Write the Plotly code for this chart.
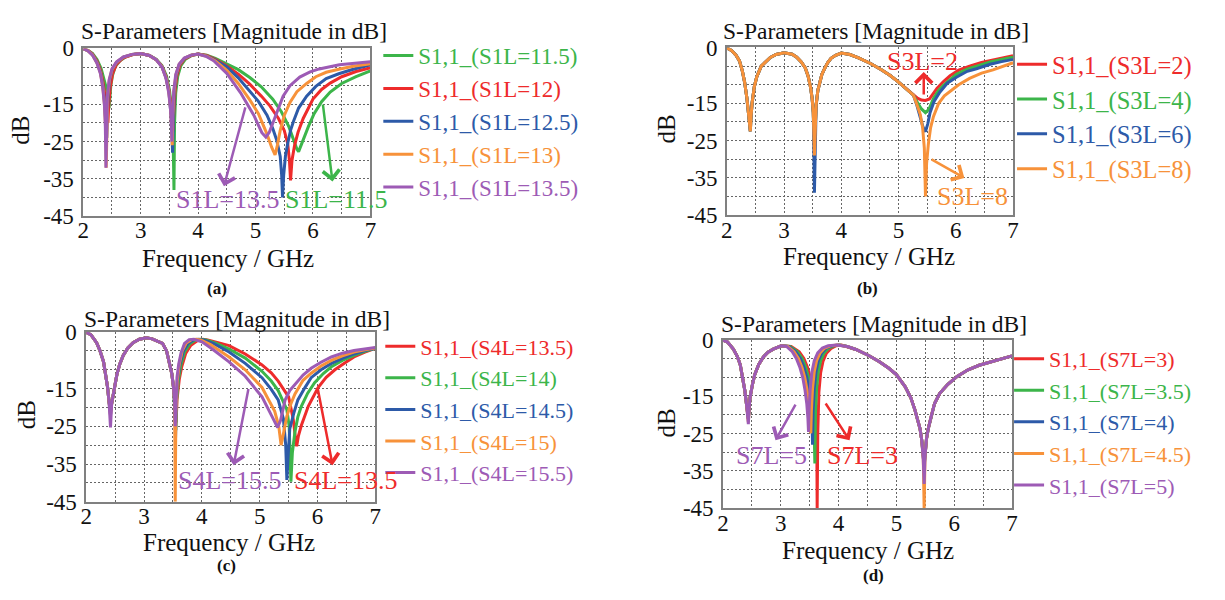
import plotly.graph_objects as go

W, H = 1225, 600
FONT = '"Liberation Serif", "Times New Roman", serif'
RED, GREEN, BLUE, ORANGE, PURPLE = "#ee2b2b", "#3cb54a", "#2d5aa8", "#f7923a", "#9d5bb5"

X_TICKS = [2, 3, 4, 5, 6, 7]
X_MINOR = [2.5, 3.5, 4.5, 5.5, 6.5]
Y_TICKS = [0, -15, -25, -35, -45]
Y_TICKTEXT = ["0", "-15", "-25", "-35", "-45"]
Y_MINOR = [-5, -10, -20, -30, -40]

# ---------------- Panel (a) : S1L ----------------
A_NAMES = ["S1,1_(S1L=11.5)", "S1,1_(S1L=12)", "S1,1_(S1L=12.5)", "S1,1_(S1L=13)", "S1,1_(S1L=13.5)"]
A115_F = [2.00, 2.08, 2.16, 2.24, 2.31, 2.36, 2.40, 2.43, 2.45, 2.465, 2.48, 2.51, 2.56, 2.64, 2.75, 2.88, 3.00, 3.15, 3.27, 3.37,
          3.45, 3.50, 3.54, 3.565, 3.58, 3.59, 3.61, 3.645, 3.70, 3.78, 3.89, 4.00, 4.15, 4.30, 4.50, 4.70, 4.90, 5.10, 5.30, 5.45,
          5.58, 5.66, 5.72, 5.75, 5.78, 5.84, 5.92, 6.02, 6.15, 6.30, 6.50, 6.75, 7.00]
A115_DB = [-0.1, -0.5, -1.3, -3.0, -5.3, -8.2, -10.5, -13.5, -16.0, -13.0, -10.0, -7.2, -4.8, -3.3, -2.2, -1.6, -1.4, -1.9, -2.9, -4.6,
           -7.4, -11.0, -16.0, -24.0, -38.0, -20.0, -12.0, -7.5, -4.6, -2.9, -1.9, -1.5, -1.8, -2.7, -4.1, -5.7, -7.8, -10.3, -13.6, -17.0,
           -21.0, -24.5, -27.0, -27.7, -26.5, -24.5, -21.0, -17.5, -14.3, -11.7, -9.4, -7.6, -6.0]
A12_F = [2.00, 2.08, 2.16, 2.24, 2.30, 2.35, 2.38, 2.40, 2.415, 2.43, 2.445, 2.47, 2.51, 2.58, 2.70, 2.85, 3.00, 3.15, 3.27, 3.37,
         3.44, 3.49, 3.525, 3.55, 3.565, 3.58, 3.60, 3.63, 3.68, 3.76, 3.88, 4.00, 4.15, 4.30, 4.50, 4.70, 4.90, 5.10, 5.25, 5.40,
         5.50, 5.56, 5.59, 5.61, 5.635, 5.68, 5.74, 5.83, 5.92, 6.00, 6.15, 6.30, 6.50, 6.75, 7.00]
A12_DB = [-0.1, -0.5, -1.5, -3.4, -5.8, -9.5, -13.0, -16.0, -18.5, -20.0, -15.0, -10.5, -6.8, -4.2, -2.5, -1.7, -1.4, -1.9, -3.0, -4.8,
          -7.5, -11.0, -15.0, -19.0, -22.0, -16.0, -11.0, -7.4, -4.6, -2.9, -1.9, -1.5, -1.9, -2.9, -4.7, -6.9, -9.6, -12.8, -15.4, -18.8,
          -22.0, -25.5, -30.0, -35.4, -30.0, -26.0, -22.5, -18.8, -15.8, -13.6, -11.0, -9.3, -7.6, -6.2, -5.2]
A125_F = [2.00, 2.08, 2.16, 2.24, 2.30, 2.34, 2.37, 2.39, 2.40, 2.41, 2.42, 2.435, 2.465, 2.51, 2.58, 2.70, 2.85, 3.00, 3.15, 3.27,
          3.37, 3.44, 3.49, 3.52, 3.54, 3.555, 3.565, 3.585, 3.62, 3.67, 3.76, 3.88, 4.00, 4.15, 4.30, 4.50, 4.70, 4.90, 5.05, 5.20,
          5.30, 5.37, 5.43, 5.455, 5.47, 5.49, 5.52, 5.56, 5.61, 5.66, 5.75, 5.89, 6.05, 6.23, 6.45, 6.70, 7.00]
A125_DB = [-0.1, -0.6, -1.6, -3.7, -6.3, -9.6, -14.0, -18.5, -21.0, -24.0, -18.0, -12.5, -8.2, -5.5, -3.8, -2.3, -1.6, -1.4, -1.9, -3.0,
           -4.9, -7.7, -11.2, -15.5, -20.0, -28.0, -19.0, -11.5, -7.2, -4.5, -2.7, -1.8, -1.5, -2.0, -3.1, -5.0, -7.9, -11.5, -14.2, -17.9,
           -21.5, -24.7, -29.0, -34.0, -40.0, -34.0, -29.0, -25.5, -22.0, -19.6, -16.0, -12.8, -10.2, -8.1, -6.8, -5.6, -4.4]
A13_F = [2.00, 2.08, 2.16, 2.24, 2.30, 2.34, 2.37, 2.39, 2.40, 2.41, 2.425, 2.455, 2.50, 2.58, 2.70, 2.85, 3.00, 3.15, 3.27, 3.37,
         3.44, 3.49, 3.52, 3.54, 3.55, 3.56, 3.58, 3.615, 3.67, 3.76, 3.88, 4.00, 4.15, 4.30, 4.50, 4.70, 4.90, 5.05, 5.20, 5.28,
         5.34, 5.38, 5.43, 5.50, 5.60, 5.72, 5.89, 6.05, 6.23, 6.45, 6.70, 7.00]
A13_DB = [-0.1, -0.6, -1.7, -3.9, -6.6, -10.2, -15.0, -21.0, -32.0, -20.0, -13.0, -8.5, -5.7, -3.7, -2.3, -1.6, -1.4, -1.9, -3.0, -4.9,
          -7.8, -11.5, -16.0, -21.0, -26.0, -18.0, -11.5, -7.0, -4.3, -2.6, -1.8, -1.5, -2.1, -3.4, -5.9, -9.4, -13.8, -17.5, -23.0, -26.5,
          -28.6, -26.0, -22.0, -18.0, -14.5, -11.6, -9.4, -7.6, -6.4, -5.6, -4.8, -4.1]
A135_F = [2.00, 2.08, 2.16, 2.24, 2.30, 2.34, 2.37, 2.385, 2.395, 2.405, 2.42, 2.45, 2.50, 2.58, 2.70, 2.85, 3.00, 3.15, 3.27, 3.37,
          3.44, 3.49, 3.52, 3.535, 3.545, 3.555, 3.575, 3.61, 3.67, 3.76, 3.88, 4.00, 4.15, 4.28, 4.50, 4.74, 4.97, 5.11, 5.18, 5.24,
          5.31, 5.40, 5.48, 5.60, 5.77, 5.95, 6.11, 6.46, 6.75, 7.00]
A135_DB = [-0.1, -0.6, -1.8, -4.0, -6.8, -10.5, -15.5, -21.0, -32.0, -20.0, -13.0, -8.5, -5.5, -3.6, -2.3, -1.6, -1.4, -1.9, -3.0, -5.0,
           -8.0, -12.0, -16.5, -21.0, -25.0, -18.0, -11.5, -7.0, -4.2, -2.6, -1.8, -1.5, -2.2, -3.4, -6.7, -11.9, -17.9, -22.6, -23.8, -22.5,
           -19.6, -15.8, -12.8, -10.0, -7.7, -6.3, -5.5, -4.4, -3.9, -3.6]

# ---------------- Panel (b) : S3L ----------------
B_NAMES = ["S1,1_(S3L=2)", "S1,1_(S3L=4)", "S1,1_(S3L=6)", "S1,1_(S3L=8)"]
B_LOW_F = [2.00, 2.08, 2.16, 2.22, 2.27, 2.31, 2.35, 2.38, 2.40, 2.41, 2.42, 2.44, 2.48, 2.52, 2.60, 2.67, 2.76, 2.86, 3.00, 3.14,
           3.22, 3.30, 3.37, 3.42, 3.46, 3.49, 3.51]
B_LOW_DB = [-0.1, -0.8, -2.1, -3.6, -6.3, -9.3, -13.6, -17.5, -20.5, -22.5, -19.0, -15.0, -10.5, -8.0, -5.0, -3.9, -2.7, -1.9, -1.4, -1.8,
            -2.6, -3.9, -5.5, -7.7, -10.5, -13.7, -17.5]
B_NOTCH_F = 3.53
B_NOTCH_DB = [-26.0, -27.0, -39.0, -29.0]
B_MID_F = [3.545, 3.56, 3.59, 3.62, 3.66, 3.71, 3.76, 3.82, 3.90, 4.00, 4.15, 4.30, 4.51, 4.70, 4.86, 5.00, 5.10, 5.20, 5.26]
B_MID_DB = [-20.0, -15.4, -11.5, -9.4, -7.2, -5.6, -4.1, -2.9, -2.1, -1.5, -1.9, -2.8, -4.3, -6.0, -7.6, -9.3, -10.6, -11.9, -12.8]
B2_F = [5.33, 5.40, 5.47, 5.54, 5.60, 5.67, 5.78, 5.90, 6.05, 6.24, 6.45, 6.65, 6.85, 7.00]
B2_DB = [-13.6, -14.1, -14.2, -13.8, -12.5, -11.0, -9.2, -7.6, -6.1, -5.0, -4.0, -3.3, -2.7, -2.2]
B4_F = [5.33, 5.40, 5.47, 5.53, 5.61, 5.70, 5.78, 5.90, 6.01, 6.20, 6.36, 6.60, 6.80, 7.00]
B4_DB = [-14.8, -16.5, -17.5, -16.6, -13.7, -11.5, -10.2, -8.5, -7.2, -5.8, -5.0, -3.9, -3.2, -2.6]
B6_F = [5.32, 5.38, 5.43, 5.47, 5.51, 5.55, 5.62, 5.72, 5.85, 6.01, 6.20, 6.36, 6.60, 6.80, 7.00]
B6_DB = [-15.5, -18.5, -21.5, -22.6, -20.5, -17.5, -14.5, -12.0, -9.6, -8.0, -6.4, -5.7, -4.5, -3.8, -3.2]
B8_F = [5.32, 5.38, 5.42, 5.45, 5.47, 5.49, 5.52, 5.56, 5.61, 5.70, 5.80, 5.90, 6.05, 6.24, 6.45, 6.65, 6.85, 7.00]
B8_DB = [-15.3, -18.0, -21.5, -27.0, -40.0, -31.0, -26.0, -21.5, -18.5, -15.0, -13.0, -11.8, -10.0, -8.3, -6.9, -6.0, -4.9, -4.1]

# ---------------- Panel (c) : S4L ----------------
C_NAMES = ["S1,1_(S4L=13.5)", "S1,1_(S4L=14)", "S1,1_(S4L=14.5)", "S1,1_(S4L=15)", "S1,1_(S4L=15.5)"]
C_LOW_A_F = [2.00, 2.08, 2.18, 2.24, 2.30, 2.34, 2.37, 2.395]
C_LOW_A_DB = [-0.1, -0.7, -2.8, -5.0, -7.9, -11.5, -14.7, -18.5]
C_DIP1_F = 2.42
C_DIP1_DB = [-21.0, -21.0, -22.0, -22.0, -25.3]
C_LOW_B_F = [2.44, 2.47, 2.50, 2.53, 2.58, 2.64, 2.72, 2.81, 2.92, 3.04, 3.14, 3.24, 3.32, 3.39, 3.44, 3.48, 3.51, 3.53]
C_LOW_B_DB = [-19.0, -16.0, -13.5, -11.3, -8.5, -6.2, -4.2, -2.8, -1.9, -1.5, -1.8, -2.4, -3.0, -5.0, -7.9, -11.0, -14.7, -19.0]
C135_F = [3.555, 3.57, 3.61, 3.65, 3.72, 3.81, 3.92, 4.02, 4.10, 4.28, 4.47, 4.75, 5.04, 5.20, 5.32, 5.50, 5.58, 5.61, 5.64, 5.67,
          5.72, 5.84, 6.01, 6.15, 6.30, 6.47, 6.63, 6.82, 7.00]
C135_DB = [-24.0, -18.0, -12.5, -9.3, -5.7, -3.5, -2.3, -1.9, -2.1, -2.8, -3.6, -5.8, -8.7, -10.8, -13.0, -17.2, -23.1, -27.0, -30.3, -27.5,
           -24.8, -19.7, -14.7, -12.0, -10.0, -8.2, -6.6, -5.3, -4.3]
C14_F = [3.55, 3.565, 3.595, 3.635, 3.70, 3.79, 3.89, 3.98, 4.07, 4.25, 4.47, 4.75, 5.04, 5.20, 5.32, 5.47, 5.51, 5.54, 5.565, 5.61,
         5.66, 5.72, 5.83, 5.95, 6.10, 6.24, 6.43, 6.63, 6.82, 7.00]
C14_DB = [-26.0, -18.0, -12.7, -8.8, -5.3, -3.1, -2.1, -1.9, -2.1, -3.0, -4.5, -6.9, -10.4, -13.0, -15.5, -20.6, -25.0, -39.7, -32.0, -26.4,
          -22.5, -19.7, -16.2, -13.4, -11.0, -9.2, -7.5, -6.2, -5.1, -4.3]
C145_F = [3.545, 3.56, 3.585, 3.62, 3.68, 3.76, 3.86, 3.94, 4.03, 4.20, 4.47, 4.75, 5.04, 5.20, 5.32, 5.41, 5.45, 5.47, 5.495, 5.52,
          5.59, 5.66, 5.78, 5.89, 6.06, 6.24, 6.43, 6.63, 6.82, 7.00]
C145_DB = [-28.0, -18.0, -12.5, -8.6, -5.1, -3.0, -2.0, -1.9, -2.1, -3.0, -5.3, -8.3, -12.1, -15.2, -18.0, -23.0, -30.0, -39.2, -32.0, -25.7,
           -21.5, -18.0, -14.8, -12.1, -10.0, -8.3, -7.0, -5.8, -4.9, -4.3]
C15_F = [3.54, 3.55, 3.575, 3.61, 3.66, 3.73, 3.82, 3.90, 3.98, 4.15, 4.47, 4.75, 5.04, 5.26, 5.33, 5.37, 5.41, 5.47, 5.54, 5.61,
         5.75, 5.89, 6.06, 6.24, 6.43, 6.63, 6.82, 7.00]
C15_DB = [-45.0, -22.0, -13.0, -8.5, -5.0, -2.9, -2.0, -1.9, -2.1, -3.3, -6.6, -10.0, -14.7, -21.0, -25.0, -30.0, -27.0, -22.3, -19.0, -16.4,
          -12.8, -10.9, -9.0, -7.5, -6.3, -5.3, -4.7, -4.2]
C155_F = [3.54, 3.55, 3.57, 3.60, 3.64, 3.70, 3.78, 3.86, 4.00, 4.18, 4.47, 4.75, 5.04, 5.21, 5.31, 5.36, 5.44, 5.52, 5.61, 5.75,
          5.89, 6.06, 6.24, 6.43, 6.63, 6.82, 7.00]
C155_DB = [-25.0, -18.0, -12.0, -8.5, -5.5, -3.0, -2.0, -1.9, -2.6, -4.5, -7.9, -11.7, -17.2, -22.3, -25.3, -23.5, -18.0, -15.5, -13.8, -11.4,
           -9.6, -8.0, -6.6, -5.6, -4.9, -4.4, -4.1]

# ---------------- Panel (d) : S7L ----------------
D_NAMES = ["S1,1_(S7L=3)", "S1,1_(S7L=3.5)", "S1,1_(S7L=4)", "S1,1_(S7L=4.5)", "S1,1_(S7L=5)"]
D_LOW_A_F = [2.00, 2.08, 2.18, 2.25, 2.30, 2.35, 2.38, 2.41]
D_LOW_A_DB = [-0.1, -0.6, -2.5, -4.5, -6.7, -10.5, -13.6, -17.5]
D_DIP1_F = 2.44
D_DIP1_DB = [-21.0, -21.0, -21.0, -22.0, -22.5]
D_LOW_B_F = [2.455, 2.47, 2.51, 2.55, 2.62, 2.70, 2.78, 2.87, 3.01]
D_LOW_B_DB = [-18.0, -15.3, -12.0, -9.3, -6.6, -4.6, -3.3, -2.5, -1.6]
D3_F = [3.18, 3.32, 3.40, 3.46, 3.51, 3.55, 3.585, 3.61, 3.625, 3.63, 3.64, 3.66, 3.69, 3.73, 3.79, 3.87, 3.96, 4.05]
D3_DB = [-1.8, -3.2, -5.0, -7.3, -10.0, -13.5, -17.0, -22.0, -30.0, -45.0, -25.0, -14.0, -8.8, -5.8, -3.6, -2.3, -1.6, -1.4]
D35_F = [3.16, 3.29, 3.37, 3.43, 3.48, 3.52, 3.555, 3.575, 3.59, 3.60, 3.62, 3.65, 3.69, 3.75, 3.83, 3.92, 4.02]
D35_DB = [-1.8, -3.2, -5.0, -7.3, -10.0, -13.5, -17.0, -22.0, -33.0, -20.0, -13.0, -8.5, -5.6, -3.5, -2.2, -1.6, -1.4]
D4_F = [3.14, 3.26, 3.34, 3.40, 3.45, 3.49, 3.52, 3.54, 3.55, 3.56, 3.58, 3.61, 3.65, 3.71, 3.79, 3.89, 4.00]
D4_DB = [-1.8, -3.2, -5.0, -7.3, -10.0, -13.5, -17.0, -21.0, -28.0, -19.0, -13.0, -8.5, -5.6, -3.5, -2.2, -1.6, -1.4]
D45_F = [3.12, 3.23, 3.305, 3.365, 3.415, 3.455, 3.485, 3.505, 3.52, 3.53, 3.55, 3.58, 3.62, 3.68, 3.76, 3.86, 3.99]
D45_DB = [-1.8, -3.2, -5.0, -7.3, -10.0, -13.5, -17.0, -21.0, -25.0, -19.0, -13.0, -8.5, -5.6, -3.5, -2.2, -1.6, -1.4]
D5_F = [3.10, 3.20, 3.27, 3.33, 3.38, 3.42, 3.45, 3.47, 3.48, 3.49, 3.51, 3.54, 3.58, 3.64, 3.72, 3.82, 3.97]
D5_DB = [-1.8, -3.2, -5.0, -7.3, -10.0, -13.5, -17.0, -21.0, -24.6, -19.0, -13.0, -8.5, -5.6, -3.5, -2.2, -1.6, -1.4]
D_HIGH_A_F = [4.15, 4.30, 4.52, 4.70, 4.87, 5.00, 5.15, 5.25, 5.32, 5.41, 5.44, 5.465]
D_HIGH_A_DB = [-1.8, -2.6, -4.2, -5.8, -7.6, -9.3, -12.5, -15.5, -18.7, -23.8, -27.0, -32.0]
D_DIP3_F = 5.48
D_DIP3_DB = [-33.0, -33.5, -34.0, -45.0, -38.5]
D_HIGH_B_F = [5.495, 5.52, 5.55, 5.60, 5.66, 5.75, 5.89, 6.05, 6.24, 6.43, 6.63, 6.82, 7.00]
D_HIGH_B_DB = [-31.0, -26.5, -23.8, -20.5, -17.0, -14.3, -11.9, -9.8, -8.0, -6.8, -5.9, -5.0, -4.3]

# ---------------- figure ----------------
fig = go.Figure()


def add(xs, ys, color, name, k):
    sfx = "" if k == 1 else str(k)
    fig.add_trace(go.Scatter(
        x=xs, y=ys, mode="lines", line=dict(color=color, width=3),
        name='<span style="color:%s">%s</span>' % (color, name),
        xaxis="x" + sfx, yaxis="y" + sfx, legend="legend" + sfx,
        hoverinfo="skip"))


A_COLS = [GREEN, RED, BLUE, ORANGE, PURPLE]
for xs, ys, c, n in zip([A115_F, A12_F, A125_F, A13_F, A135_F],
                        [A115_DB, A12_DB, A125_DB, A13_DB, A135_DB], A_COLS, A_NAMES):
    add(xs, ys, c, n, 1)

B_COLS = [RED, GREEN, BLUE, ORANGE]
for i, (hf, hd) in enumerate([(B2_F, B2_DB), (B4_F, B4_DB), (B6_F, B6_DB), (B8_F, B8_DB)]):
    xs = B_LOW_F + [B_NOTCH_F] + B_MID_F + hf
    ys = B_LOW_DB + [B_NOTCH_DB[i]] + B_MID_DB + hd
    add(xs, ys, B_COLS[i], B_NAMES[i], 2)

C_COLS = [RED, GREEN, BLUE, ORANGE, PURPLE]
for i, (hf, hd) in enumerate([(C135_F, C135_DB), (C14_F, C14_DB), (C145_F, C145_DB), (C15_F, C15_DB), (C155_F, C155_DB)]):
    xs = C_LOW_A_F + [C_DIP1_F] + C_LOW_B_F + hf
    ys = C_LOW_A_DB + [C_DIP1_DB[i]] + C_LOW_B_DB + hd
    add(xs, ys, C_COLS[i], C_NAMES[i], 3)

D_COLS = [RED, GREEN, BLUE, ORANGE, PURPLE]
for i, (mf, md) in enumerate([(D3_F, D3_DB), (D35_F, D35_DB), (D4_F, D4_DB), (D45_F, D45_DB), (D5_F, D5_DB)]):
    xs = D_LOW_A_F + [D_DIP1_F] + D_LOW_B_F + mf + D_HIGH_A_F + [D_DIP3_F] + D_HIGH_B_F
    ys = D_LOW_A_DB + [D_DIP1_DB[i]] + D_LOW_B_DB + md + D_HIGH_A_DB + [D_DIP3_DB[i]] + D_HIGH_B_DB
    add(xs, ys, D_COLS[i], D_NAMES[i], 4)

# panel boxes in pixels: (left, right, top, bottom)
BOXES = [(78, 368, 38, 213), (728, 1017, 37, 212), (81, 373, 334, 511), (724, 1016, 342, 518)]
GRID_C, GRID_D = "#666666", "2px,2px"
layout = dict(width=W, height=H, margin=dict(l=0, r=0, t=0, b=0),
              paper_bgcolor="white", plot_bgcolor="white",
              font=dict(family=FONT, color="#111111"), showlegend=True)
for k, (l, r, t, b) in enumerate(BOXES, start=1):
    sfx = "" if k == 1 else str(k)
    layout["xaxis" + sfx] = dict(
        domain=[l / W, r / W], anchor="y" + sfx, range=[2, 7],
        tickmode="array", tickvals=X_TICKS, ticks="", ticklen=0, showgrid=True,
        gridcolor=GRID_C, gridwidth=1, griddash=GRID_D,
        minor=dict(tickvals=X_MINOR, showgrid=True, gridcolor=GRID_C, griddash=GRID_D, gridwidth=1),
        showline=True, linecolor="#808080", linewidth=1.5, mirror=True, zeroline=False,
        ticklabelstandoff=-7,
        tickfont=dict(family=FONT, size=23, color="#111111"))
    layout["yaxis" + sfx] = dict(
        domain=[1 - b / H, 1 - t / H], anchor="x" + sfx, range=[-45, 0],
        tickmode="array", tickvals=Y_TICKS, ticktext=Y_TICKTEXT, ticks="", ticklen=0, showgrid=True,
        gridcolor=GRID_C, gridwidth=1, griddash=GRID_D,
        minor=dict(tickvals=Y_MINOR, showgrid=True, gridcolor=GRID_C, griddash=GRID_D, gridwidth=1),
        showline=True, linecolor="#808080", linewidth=1.5, mirror=True, zeroline=False,
        ticklabelstandoff=3,
        tickfont=dict(family=FONT, size=23, color="#111111"))

# legends: (left px, top px, font size)
LEG = [(376, 23, 23), (1016, 31, 24.5), (378, 327, 22), (1013, 340, 22)]
for k, (lx, ty, fs) in enumerate(LEG, start=1):
    sfx = "" if k == 1 else str(k)
    layout["legend" + sfx] = dict(x=lx / W, y=1 - ty / H, xanchor="left", yanchor="top",
                                  bgcolor="rgba(0,0,0,0)", borderwidth=0, itemwidth=30,
                                  tracegroupgap=0, traceorder="normal",
                                  font=dict(family=FONT, size=fs))
fig.update_layout(**layout)

anns = []


def ptext(txt, px, py, size, xanchor="center", bold=False, angle=0, color="#111111"):
    anns.append(dict(text=("<b>%s</b>" % txt) if bold else txt, x=px / W, y=1 - py / H,
                     xref="paper", yref="paper", showarrow=False, xanchor=xanchor, yanchor="middle",
                     textangle=angle, font=dict(family=FONT, size=size, color=color)))


TITLE = "S-Parameters [Magnitude in dB]"
for (px, py) in [(74, 20), (722, 20), (77, 320), (720, 326)]:
    ptext(TITLE, px, py, 23.5, xanchor="left")
for (px, py) in [(15, 123), (667, 122), (21, 420), (667, 429)]:
    ptext("dB", px, py, 25, angle=-90)
for (px, py) in [(224, 257), (872, 255), (225, 554), (871, 562)]:
    ptext("Frequency / GHz", px, py, 25)
for txt, (px, py) in zip(["(a)", "(b)", "(c)", "(d)"], [(213, 288), (870, 288), (223, 578), (876, 588)]):
    ptext(txt, px, py, 17, bold=True)


def dlabel(k, txt, x, y, color):
    sfx = "" if k == 1 else str(k)
    anns.append(dict(text=txt, x=x, y=y, xref="x" + sfx, yref="y" + sfx, showarrow=False,
                     xanchor="center", yanchor="middle", font=dict(family=FONT, size=26, color=color)))


def darrow(k, x0, y0, x1, y1, color):
    sfx = "" if k == 1 else str(k)
    anns.append(dict(text="", x=x1, y=y1, ax=x0, ay=y0, xref="x" + sfx, yref="y" + sfx,
                     axref="x" + sfx, ayref="y" + sfx, showarrow=True, arrowhead=4,
                     arrowsize=1.3, arrowwidth=2.5, arrowcolor=color, standoff=0))


dlabel(1, "S1L=13.5", 4.52, -40.6, PURPLE)
dlabel(1, "S1L=11.5", 6.41, -40.6, GREEN)
darrow(1, 4.83, -15.4, 4.45, -37.0, PURPLE)
darrow(1, 6.17, -14.7, 6.34, -35.7, GREEN)

dlabel(2, "S3L=2", 5.41, -3.9, RED)
dlabel(2, "S3L=8", 6.29, -40.1, ORANGE)
darrow(2, 5.44, -13.0, 5.44, -6.6, RED)
darrow(2, 5.55, -29.8, 6.15, -35.0, ORANGE)

dlabel(3, "S4L=15.5", 4.48, -39.4, PURPLE)
dlabel(3, "S4L=13.5", 6.49, -39.4, RED)
darrow(3, 4.81, -14.7, 4.55, -35.3, PURPLE)
darrow(3, 6.00, -14.7, 6.26, -35.3, RED)

dlabel(4, "S7L=5", 2.84, -30.9, PURPLE)
dlabel(4, "S7L=3", 4.41, -30.9, RED)
darrow(4, 3.27, -16.9, 2.91, -26.8, PURPLE)
darrow(4, 3.76, -16.6, 4.19, -26.8, RED)

fig.update_layout(annotations=anns)
fig.write_html("out.html")
